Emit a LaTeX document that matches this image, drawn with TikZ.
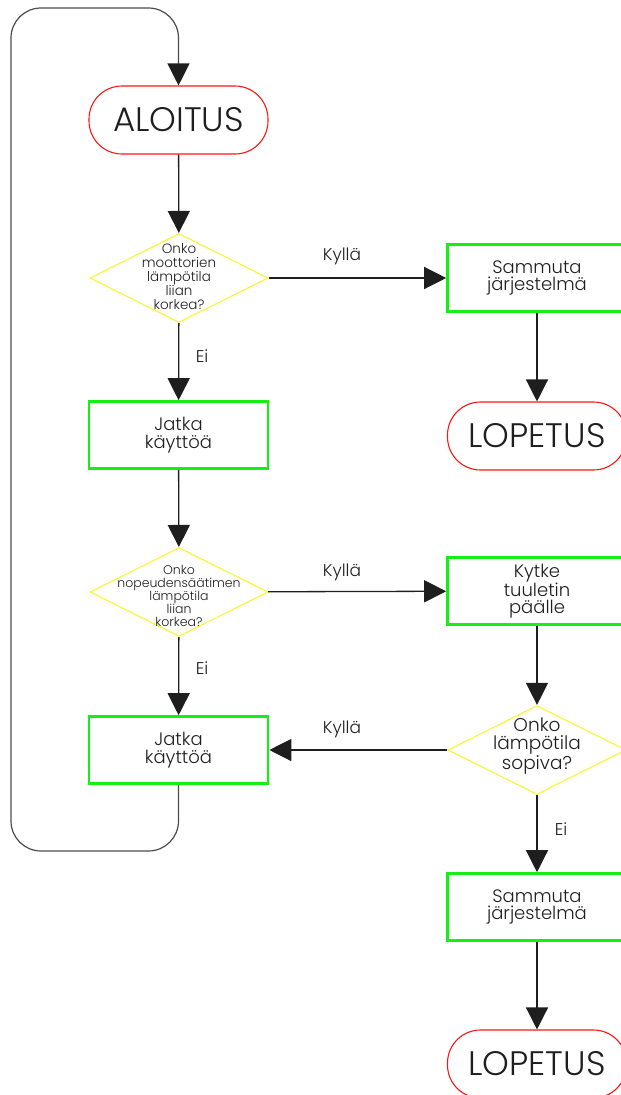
\documentclass[tikz,border=0pt]{standalone}
\usepackage{fontspec}
\setmainfont{Poppins}[UprightFont=* Light]
\usetikzlibrary{arrows.meta,shapes.geometric}
\definecolor{termred}{RGB}{255,20,20}
\definecolor{procgreen}{RGB}{20,240,20}
\definecolor{decyellow}{RGB}{250,245,60}
\definecolor{ink}{RGB}{30,30,30}
\begin{document}
\begin{tikzpicture}[x=1pt,y=-1pt,
  terminal/.style={draw=termred, line width=1.1pt, rounded corners=33pt,
    minimum width=179pt, minimum height=68pt, inner sep=0pt, text=ink,
    font=\fontsize{34}{36}\selectfont},
  process/.style={draw=procgreen, line width=2.6pt, minimum width=179pt,
    minimum height=67pt, inner sep=0pt, align=center, text=ink,
    font=\fontsize{18}{17.5}\selectfont},
  decision/.style={diamond, draw=decyellow, line width=1.2pt,
    minimum width=178pt, minimum height=89pt, inner sep=0pt},
  dtext/.style={align=center, text=ink, inner sep=0pt},
  tag/.style={text=ink, inner sep=0pt, font=\fontsize{17}{18}\selectfont},
  tip/.style={-{Triangle[width=22pt,length=22pt,color=ink]}},
  flow/.style={draw=ink, line width=1.3pt, tip},
  loop/.style={draw=ink!80, line width=1.2pt, rounded corners=30pt, tip}
]
\useasboundingbox (0,0) rectangle (621,1095);

% terminals
\node[terminal] (start) at (178.5,120) {ALOITUS};
\node[terminal] (stop1) at (537,436) {LOPETUS};
\node[terminal] (stop2) at (537,1064) {LOPETUS};

% decisions
\node[decision] (d1) at (179,278) {};
\node[dtext, font=\fontsize{13.5}{14}\selectfont] (d1t) at (179,277)
  {Onko\\moottorien\\lämpötila\\liian\\korkea?};
\node[decision] (d2) at (179,592) {};
\node[dtext, font=\fontsize{12.5}{12.8}\selectfont] (d2t) at (179,596)
  {Onko\\nopeudensäätimen\\lämpötila\\liian\\korkea?};
\node[decision] (d3) at (537,750) {};
\node[dtext, font=\fontsize{18.5}{18}\selectfont] (d3t) at (537,746)
  {Onko\\lämpötila\\sopiva?};

% processes
\node[process] (off1) at (537,278) {Sammuta\\järjestelmä};
\node[process] (cont1) at (178.5,435) {Jatka\\käyttöä};
\node[process] (fan) at (537,591) {Kytke\\tuuletin\\päälle};
\node[process] (cont2) at (178.5,750) {Jatka\\käyttöä};
\node[process] (off2) at (537,907) {Sammuta\\järjestelmä};

% connectors
\draw[flow] (start) -- (d1);
\draw[flow] (d1) -- (off1);
\draw[flow] (off1) -- (stop1);
\draw[flow] (d1) -- (cont1);
\draw[flow] (cont1) -- (d2);
\draw[flow] (d2) -- (fan);
\draw[flow] (d2) -- (cont2);
\draw[flow] (fan) -- (d3);
\draw[flow] (d3) -- (cont2);
\draw[flow] (d3) -- (off2);
\draw[flow] (off2) -- (stop2);

% return loop back to the start
\coordinate (lb) at (11,851);
\coordinate (lt) at (11,8);
\draw[loop]
  (cont2.south) -- (cont2.south |- lb) -- (lb) -- (lt) -- (start.north |- lt)
  -- (start.north);

% branch labels
\node[tag] (y1) at (342,256) {Kyllä};
\node[tag] (n1) at (202,356) {Ei};
\node[tag] (y2) at (342,572) {Kyllä};
\node[tag] (n2) at (202,668) {Ei};
\node[tag] (y3) at (342,729) {Kyllä};
\node[tag] (n3) at (561,829) {Ei};
\end{tikzpicture}
\end{document}
